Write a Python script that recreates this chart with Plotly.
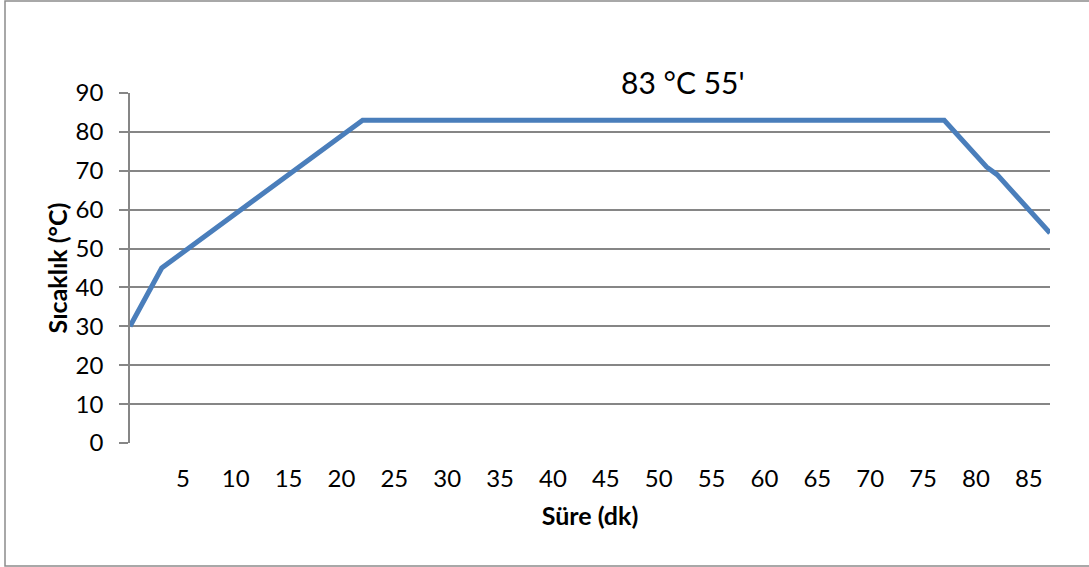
import plotly.graph_objects as go

sure_dk = [0, 3, 22, 77, 81, 82, 87]
sicaklik = [30, 45, 83, 83, 71, 69, 54]
x_ticks = [5, 10, 15, 20, 25, 30, 35, 40, 45, 50, 55, 60, 65, 70, 75, 80, 85]
y_ticks = [0, 10, 20, 30, 40, 50, 60, 70, 80, 90]
note_text = "83 °C 55'"
note_x = 52.3
note_y_value = 92.8

FONT = "Lato"
GRID = "#868686"
Y_MAX = 90

fig = go.Figure()
fig.add_trace(go.Scatter(
    x=sure_dk, y=sicaklik, mode="lines",
    line=dict(color="#4a7ebb", width=5),
    showlegend=False, hoverinfo="skip", cliponaxis=False,
))

fig.update_layout(
    width=1089, height=567,
    margin=dict(l=130, r=39, t=93, b=124, autoexpand=False),
    paper_bgcolor="white", plot_bgcolor="white",
    font=dict(family=FONT, size=24, color="black"),
    xaxis=dict(
        range=[0, 87], tickvals=x_ticks, ticktext=[str(v) for v in x_ticks],
        showgrid=False, zeroline=False, ticks="", showline=False,
        ticklabelstandoff=19,
        title=dict(text="<b>Süre (dk)</b>", font=dict(size=25), standoff=16),
    ),
    yaxis=dict(
        range=[0, Y_MAX], tickvals=y_ticks,
        showgrid=True, gridcolor=GRID, gridwidth=1.5,
        zeroline=False, showline=True, linecolor=GRID, linewidth=1.5,
        ticks="outside", ticklen=9, tickcolor=GRID, tickwidth=1.5,
        ticklabelstandoff=11,
        title=dict(text="<b>Sıcaklık (°C)</b>", font=dict(size=25), standoff=1),
    ),
    shapes=[dict(type="rect", xref="paper", yref="paper",
                 x0=(5 - 130) / 920, x1=(1100 - 130) / 920,
                 y0=(443 - 566) / 350, y1=(443 - 1) / 350,
                 line=dict(color="#8c8c8c", width=1.5), layer="below")],
    annotations=[dict(x=note_x, y=note_y_value / Y_MAX, xref="x", yref="paper",
                      xanchor="center", yanchor="middle",
                      text=note_text, showarrow=False,
                      font=dict(family=FONT, size=30, color="black"))],
)

fig.write_html("out.html")
